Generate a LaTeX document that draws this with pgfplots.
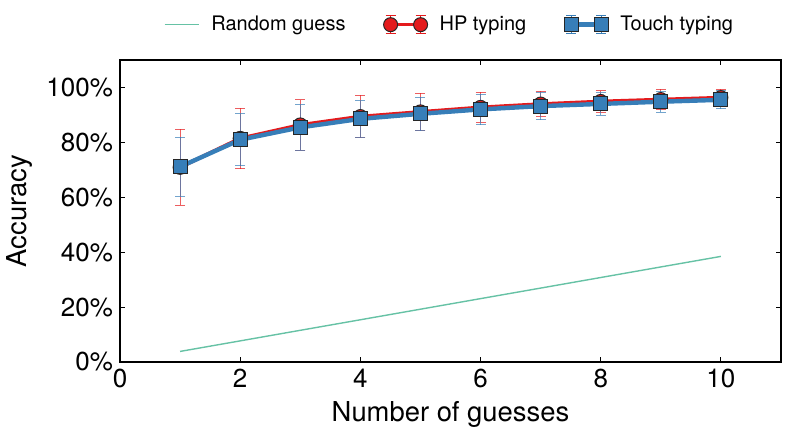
\documentclass[border=0pt]{standalone}
\usepackage{fontspec}
\setmainfont{TeX Gyre Heros}
\usepackage{pgfplots}
\pgfplotsset{compat=1.18}
\definecolor{cred}{HTML}{E41A1C}
\definecolor{cblue}{HTML}{377EB8}
\definecolor{cgreen}{HTML}{66C2A5}

\pgfplotsset{
  lineleg/.style={legend image code/.code={\draw[##1] (-2pt,0pt)--(15pt,0pt);}},
  errleg/.style={legend image code/.code={
    \draw[#1,line width=0.5pt] (0pt,-4.5pt)--(0pt,4.5pt) (-2.5pt,4.5pt)--(2.5pt,4.5pt) (-2.5pt,-4.5pt)--(2.5pt,-4.5pt)
      (15pt,-4.5pt)--(15pt,4.5pt) (12.5pt,4.5pt)--(17.5pt,4.5pt) (12.5pt,-4.5pt)--(17.5pt,-4.5pt);
    \draw[##1] plot coordinates {(0pt,0pt) (15pt,0pt)};}},
}

\begin{document}
\begin{tikzpicture}
\begin{axis}[
  scale only axis, width=330.5pt, height=151pt,
  xmin=0, xmax=11, ymin=0, ymax=110,
  xtick={0,2,...,10}, ytick={0,20,...,100},
  yticklabel={\pgfmathprintnumber{\tick}\%},
  /pgf/number format/assume math mode=true,
  tick align=inside, major tick length=2.5pt,
  tick style={black, line width=0.5pt},
  axis line style={line width=0.6pt},
  ticklabel style={font=\fontsize{13}{15}\selectfont},
  xlabel={Number of guesses}, ylabel={Accuracy},
  label style={font=\fontsize{13.7}{16}\selectfont},
  legend columns=3,
  legend style={draw=none, fill=none, at={(0.5,1.06)}, anchor=south,
    font=\fontsize{10}{12}\selectfont,
    /tikz/every odd column/.append style={column sep=4pt},
    /tikz/every even column/.append style={column sep=17pt}},
]
% random guess
\addplot[cgreen, line width=0.7pt, lineleg]
  coordinates {(1,3.85) (2,7.69) (3,11.54) (4,15.38) (5,19.23) (6,23.08) (7,26.92) (8,30.77) (9,34.62) (10,38.46)};
\addlegendentry{Random guess}

% HP typing
\addplot[cred, line width=1.8pt, mark=*, mark size=3.5pt,
  mark options={fill=cred, draw=black!85, line width=0.5pt},
  errleg=cred,
  error bars/.cd, y dir=both, y explicit,
  error bar style={cred, line width=0.5pt, opacity=0.7},
  error mark options={rotate=90, mark size=2.5pt, cred, line width=0.5pt}]
  coordinates {
  (1,70.9) +- (0,13.8)
  (2,81.45) +- (0,11.05)
  (3,86.35) +- (0,9.15)
  (4,89.4) +- (0,7.8)
  (5,91.1) +- (0,6.8)
  (6,92.75) +- (0,5.45)
  (7,93.95) +- (0,4.65)
  (8,94.9) +- (0,3.95)
  (9,95.6) +- (0,3.7)
  (10,96.3) +- (0,3.0)
  };
\addlegendentry{HP typing}

% touch typing
\addplot[cblue, line width=2.2pt, mark=square*, mark size=3.5pt,
  mark options={fill=cblue, draw=black!85, line width=0.5pt},
  errleg=cblue,
  error bars/.cd, y dir=both, y explicit,
  error bar style={cblue, line width=0.5pt, opacity=0.7},
  error mark options={rotate=90, mark size=2.5pt, cblue, line width=0.5pt}]
  coordinates {
  (1,71.1) +- (0,10.8)
  (2,80.95) +- (0,9.45)
  (3,85.45) +- (0,8.25)
  (4,88.55) +- (0,6.65)
  (5,90.4) +- (0,6.1)
  (6,92.0) +- (0,5.5)
  (7,93.2) +- (0,4.95)
  (8,94.0) +- (0,4.15)
  (9,94.8) +- (0,3.75)
  (10,95.5) +- (0,3.3)
  };
\addlegendentry{Touch typing}
\end{axis}
\pgfresetboundingbox
\path[use as bounding box] ([xshift=-60pt,yshift=-37.5pt]current axis.south west) rectangle ([xshift=4.5pt,yshift=30pt]current axis.north east);
\end{tikzpicture}
\end{document}
